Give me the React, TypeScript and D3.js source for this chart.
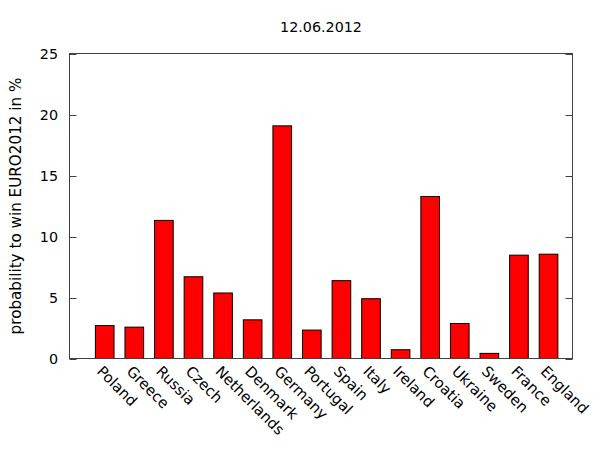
import React from "react";
import * as d3 from "d3";

const countries = ["Poland","Greece","Russia","Czech","Netherlands","Denmark","Germany","Portugal","Spain","Italy","Ireland","Croatia","Ukraine","Sweden","France","England"];
const probabilities = [2.7,2.57,11.32,6.7,5.37,3.17,19.07,2.33,6.38,4.9,0.72,13.28,2.87,0.42,8.47,8.55];
const yTicks = [0,5,10,15,20,25];
const title = "12.06.2012";
const yLabel = "probability to win EURO2012 in %";

export default function App() {
  const W = 600, H = 450;
  const left = 69.5, right = 572.5, top = 53.5, bottom = 358.5;
  const x = d3.scaleLinear().domain([-1.19, 15.81]).range([left, right]);
  const y = d3.scaleLinear().domain([0, 25]).range([bottom, top]);
  const bw = (x(1) - x(0)) * 0.63;
  const font = "DejaVu Sans, sans-serif";
  const axisColor = "#404040";
  return (
    <svg width={W} height={H} style={{ position: "absolute", left: 0, top: 0, background: "#fff" }} fontFamily={font}>
      <rect x={0} y={0} width={W} height={H} fill="#fff" />
      <text x={(left + right) / 2} y={32} textAnchor="middle" fontSize={14.3} fill="#000">{title}</text>
      {countries.map((c, i) => {
        const cx = x(i);
        return (
          <rect key={c} x={cx - bw / 2} y={y(probabilities[i])} width={bw} height={y(0) - y(probabilities[i])}
            fill="#ff0000" stroke="#000" strokeWidth={1} />
        );
      })}
      <rect x={left} y={top} width={right - left} height={bottom - top} fill="none" stroke={axisColor} strokeWidth={1} />
      {yTicks.map(t => (
        <g key={t}>
          <line x1={left} x2={left + 7} y1={Math.round(y(t)) + 0.5} y2={Math.round(y(t)) + 0.5} stroke={axisColor} />
          <line x1={right - 7} x2={right} y1={Math.round(y(t)) + 0.5} y2={Math.round(y(t)) + 0.5} stroke={axisColor} />
          <text x={58} y={y(t)} dy="0.36em" textAnchor="end" fontSize={14.3} fill="#000">{t}</text>
        </g>
      ))}
      <text transform={`translate(16,${(top + bottom) / 2}) rotate(-90)`} textAnchor="middle" dy="0.35em" fontSize={15.2} fill="#000">{yLabel}</text>
      {countries.map((c, i) => (
        <text key={c} transform={`translate(${x(i) - 5},${bottom + 10}) rotate(45)`} textAnchor="start" dy="0.35em" fontSize={14.8} fill="#000">{c}</text>
      ))}
    </svg>
  );
}
